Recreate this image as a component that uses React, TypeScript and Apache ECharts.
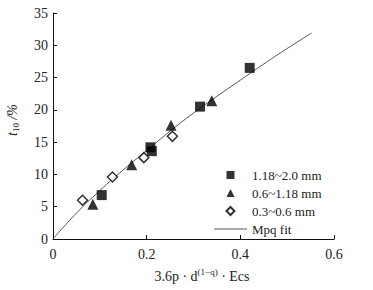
import React, { useEffect, useRef } from "react";
import * as echarts from "echarts";

const xTicks = [0, 0.2, 0.4, 0.6];
const yTicks = [0, 5, 10, 15, 20, 25, 30, 35];

const seriesNames = ["1.18~2.0 mm", "0.6~1.18 mm", "0.3~0.6 mm", "Mpq fit"];

const sqX = [0.104, 0.208, 0.211, 0.314, 0.42];
const sqY = [6.8, 14.2, 13.6, 20.5, 26.5];
const triX = [0.085, 0.168, 0.252, 0.339];
const triY = [5.4, 11.5, 17.6, 21.4];
const diaX = [0.063, 0.127, 0.194, 0.255];
const diaY = [6.0, 9.6, 12.6, 15.9];
const fitX = [0, 0.05, 0.1, 0.15, 0.2, 0.25, 0.3, 0.35, 0.4, 0.45, 0.5, 0.552];
const fitY = [0, 4.0, 7.5, 10.7, 13.7, 16.7, 19.5, 22.1, 24.6, 27.1, 29.5, 31.9];

const zip = (xs: number[], ys: number[]) => xs.map((x, i) => [x, ys[i]]);

const FONT = "'Liberation Serif', 'DejaVu Serif', serif";

const legendIcons = [
  "path://M0,0H10V10H0Z",
  "path://M5,0L10,10L0,10Z",
  "path://M5,0L10,5L5,10L0,5Z",
  "path://M0,0H33V1H0Z",
];

export default function App() {
  const ref = useRef<HTMLDivElement>(null);
  useEffect(() => {
    if (!ref.current) return;
    const chart = echarts.init(ref.current, undefined, { renderer: "svg" });
    const axisCommon = {
      axisLine: { show: true, lineStyle: { color: "#111", width: 1 } },
      axisTick: { show: true, inside: true, length: 4, lineStyle: { color: "#111" } },
      splitLine: { show: false },
      axisLabel: { color: "#222", fontFamily: FONT, fontSize: 14 },
    };
    chart.setOption({
      animation: false,
      backgroundColor: "#fff",
      grid: { left: 53, right: 39, top: 13, bottom: 51, containLabel: false },
      xAxis: {
        type: "value",
        min: xTicks[0],
        max: xTicks[xTicks.length - 1],
        interval: 0.2,
        ...axisCommon,
        axisLabel: { ...axisCommon.axisLabel, margin: 8, formatter: (v: number) => String(+v.toFixed(1)) },
      },
      yAxis: {
        type: "value",
        min: yTicks[0],
        max: yTicks[yTicks.length - 1],
        interval: 5,
        ...axisCommon,
        axisLabel: { ...axisCommon.axisLabel, margin: 5 },
      },
      legend: {
        orient: "vertical",
        left: 214,
        top: 166,
        padding: 0,
        itemWidth: 33,
        itemHeight: 8,
        itemGap: 0,
        symbolKeepAspect: true,
        data: seriesNames.map((name, i) => ({ name, icon: legendIcons[i] })),
        textStyle: { fontFamily: FONT, fontSize: 13, color: "#222", lineHeight: 18 },
      },
      graphic: [
        {
          type: "text",
          x: 12,
          y: 120,
          rotation: Math.PI / 2,
          style: {
            text: "{t|t}{s|10}{n| /%}",
            align: "center",
            verticalAlign: "middle",
            fill: "#222",
            rich: {
              t: { fontFamily: FONT, fontSize: 14, fontStyle: "italic", lineHeight: 16, fill: "#222" },
              s: { fontFamily: FONT, fontSize: 9, lineHeight: 9, verticalAlign: "bottom", fill: "#222" },
              n: { fontFamily: FONT, fontSize: 14, fontStyle: "italic", lineHeight: 16, fill: "#222" },
            },
          },
        },
        {
          type: "text",
          x: 202,
          y: 276,
          style: {
            text: "{n|3.6p · d}{s|(1−q)}{n| · Ecs}",
            align: "center",
            verticalAlign: "middle",
            fill: "#222",
            rich: {
              n: { fontFamily: FONT, fontSize: 14, lineHeight: 18, fill: "#222" },
              s: { fontFamily: FONT, fontSize: 9, lineHeight: 9, verticalAlign: "top", fill: "#222" },
            },
          },
        },
      ],
      series: [
        {
          name: seriesNames[0],
          type: "scatter",
          symbol: "rect",
          symbolSize: 10,
          itemStyle: { color: "#000" },
          data: zip(sqX, sqY),
          z: 3,
        },
        {
          name: seriesNames[1],
          type: "scatter",
          symbol: "triangle",
          symbolSize: 11,
          itemStyle: { color: "#000" },
          data: zip(triX, triY),
          z: 3,
        },
        {
          name: seriesNames[2],
          type: "scatter",
          symbol: "diamond",
          symbolSize: 10,
          itemStyle: { color: "#fff", borderColor: "#000", borderWidth: 1.5 },
          data: zip(diaX, diaY),
          z: 3,
        },
        {
          name: seriesNames[3],
          type: "line",
          smooth: true,
          symbol: "none",
          lineStyle: { color: "#555", width: 1 },
          itemStyle: { color: "#555" },
          data: zip(fitX, fitY),
          z: 2,
        },
      ],
    });
    return () => chart.dispose();
  }, []);
  return (
    <div
      ref={ref}
      style={{ position: "fixed", left: 0, top: 0, width: 373, height: 290 }}
    />
  );
}
